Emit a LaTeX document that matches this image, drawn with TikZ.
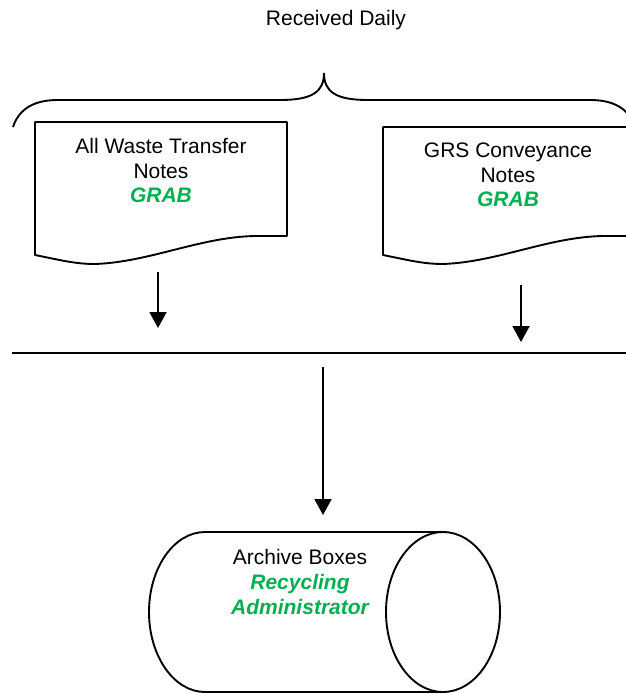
\documentclass[tikz,border=0pt]{standalone}
\usepackage{fontspec}
\setmainfont{Liberation Sans}
\usetikzlibrary{arrows.meta}
\definecolor{grabgreen}{RGB}{0,176,80}
\tikzset{
  outline/.style={draw=black, line width=1.9pt, line join=round},
  txt/.style={anchor=base, inner sep=0pt, font=\fontsize{21}{25}\selectfont},
  role/.style={txt, text=grabgreen, font=\fontsize{21}{25}\selectfont\bfseries\itshape},
  flow/.style={draw=black, line width=1.9pt, -{Triangle[width=17pt,length=16pt]}}
}
\begin{document}
\begin{tikzpicture}[x=1pt,y=-1pt]
  \useasboundingbox (0,0) rectangle (626,694);
  \clip (0,0) rectangle (626,694);

  % heading and brace
  \node[txt] (received) at (336,25) {Received Daily};
  \draw[line width=1.9pt] (13,127) .. controls (20,106) and (38,100) .. (58,100)
    -- (280,100) .. controls (312,100) and (324,92) .. (324,73)
    .. controls (324,92) and (336,100) .. (368,100)
    -- (590,100) .. controls (610,100) and (628,106) .. (635,127);

  % left document
  \path[outline] (35,122) -- (287,122) -- (287,236) -- (255,236)
    .. controls (200,237) and (150,262) .. (95,264)
    .. controls (75,264) and (60,260) .. (35,255) -- cycle;
  \node[txt] (wasteA) at (161,153) {All Waste Transfer};
  \node[txt] (wasteB) at (161,178) {Notes};
  \node[role] (wasteC) at (161,202) {GRAB};

  % right document
  \path[outline] (383,127) -- (635,127) -- (635,236) -- (603,236)
    .. controls (548,237) and (498,262) .. (443,264)
    .. controls (423,264) and (408,260) .. (383,255) -- cycle;
  \node[txt] (grsA) at (508,157) {GRS Conveyance};
  \node[txt] (grsB) at (508,182) {Notes};
  \node[role] (grsC) at (508,206) {GRAB};

  % arrows into the collecting line
  \coordinate (wasteOut) at (158,272);
  \coordinate (wasteIn) at (158,328);
  \coordinate (grsOut) at (521,285);
  \coordinate (grsIn) at (521,342);
  \draw[flow] (wasteOut) -- (wasteIn);
  \draw[flow] (grsOut) -- (grsIn);

  \coordinate (lineL) at (12,353);
  \coordinate (lineR) at (626,353);
  \draw[line width=2.3pt] (lineL) -- (lineR);

  \coordinate (mainOut) at (323,367);
  \coordinate (mainIn) at (323,515);
  \draw[flow] (mainOut) -- (mainIn);

  % archive cylinder
  \draw[outline] (443,532) -- (205,532)
    arc[start angle=270, end angle=90, x radius=56, y radius=80]
    -- (443,692);
  \draw[outline] (443,612) ellipse[x radius=57, y radius=80];
  \node[txt] (archA) at (300,564) {Archive Boxes};
  \node[role] (archB) at (300,589) {Recycling};
  \node[role] (archC) at (300,614) {Administrator};
\end{tikzpicture}
\end{document}
